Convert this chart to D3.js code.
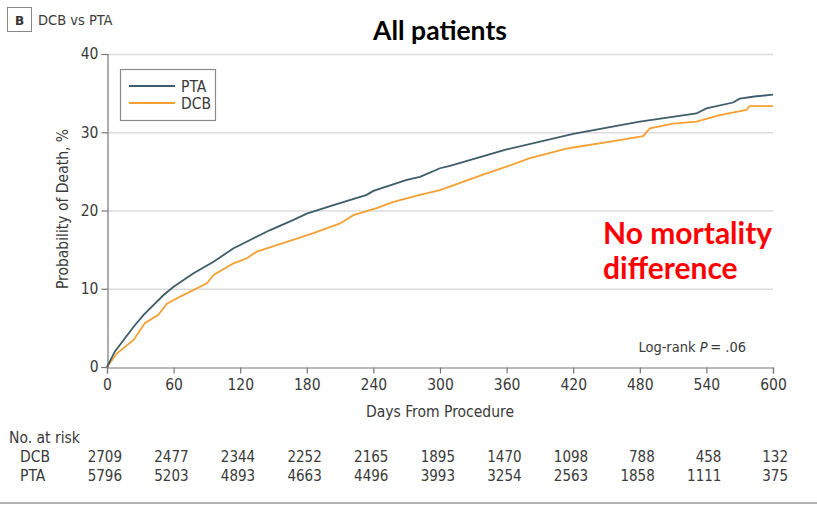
<!DOCTYPE html>
<html><head><meta charset="utf-8">
<script src="https://cdn.jsdelivr.net/npm/d3@7"></script>
<style>
html,body{margin:0;padding:0;background:#fff;}
svg{display:block;}
.cond{font-family:'DejaVu Sans Condensed','DejaVu Sans',sans-serif;font-stretch:condensed;fill:#3a3a3a;}
</style></head>
<body>
<svg id="chart" width="817" height="505"></svg>
<script>
// ---- data ----
const xTicks = [0,60,120,180,240,300,360,420,480,540,600];
const yTicks = [0,10,20,30,40];
const ptaDays = [0,7,24,33,51,60,78,96,114,120,147,168,180,204,234,240,270,282,300,309,360,420,480,531,540,564,570,585,600];
const ptaVals = [0,1.96,5.15,6.65,9.2,10.26,11.97,13.46,15.17,15.6,17.5,18.8,19.6,20.7,22.0,22.5,23.9,24.3,25.4,25.7,27.8,29.8,31.35,32.4,33.05,33.8,34.3,34.6,34.8];
const dcbDays = [0,9,24,34,46,54,66,90,96,114,126,135,162,186,210,222,243,258,282,300,342,360,381,414,420,462,483,489,510,531,552,576,579,600];
const dcbVals = [0,1.75,3.45,5.6,6.65,8.1,9.0,10.7,11.75,13.25,13.9,14.75,16.0,17.1,18.35,19.4,20.3,21.1,22.0,22.6,24.75,25.6,26.7,27.9,28.05,29.0,29.5,30.5,31.1,31.35,32.2,32.85,33.35,33.35];
const riskGroups = ["DCB","PTA"];
const riskDCB = [2709,2477,2344,2252,2165,1895,1470,1098,788,458,132];
const riskPTA = [5796,5203,4893,4663,4496,3993,3254,2563,1858,1111,375];
const seriesNames = ["PTA","DCB"];
const colors = {PTA:"#3f5d69", DCB:"#f6a033"};

const svg = d3.select("#chart");
const x = d3.scaleLinear().domain([0,600]).range([107,773]);
const y = d3.scaleLinear().domain([0,40]).range([367,54]);
const FS = 15.5;

// header
svg.append("rect").attr("x",7.5).attr("y",7.5).attr("width",24).attr("height",24)
  .attr("fill","none").attr("stroke","#888").attr("stroke-width",1);
svg.append("text").attr("x",19.5).attr("y",24.5).attr("text-anchor","middle")
  .attr("font-family","'DejaVu Sans',sans-serif").attr("font-weight","bold").attr("font-size",12).attr("fill","#333").text("B");
svg.append("text").attr("class","cond").attr("x",38).attr("y",25).attr("font-size",14.5).text("DCB vs PTA");

svg.append("text").attr("x",440).attr("y",40).attr("text-anchor","middle")
  .attr("font-family","Lato,sans-serif").attr("font-weight","bold").attr("font-size",26.5).attr("fill","#000").text("All patients");

// gridlines
svg.append("g").selectAll("line").data(yTicks.filter(d=>d>0)).join("line")
  .attr("x1",x(0)).attr("x2",x(600)).attr("y1",d=>y(d)+0.5).attr("y2",d=>y(d)+0.5)
  .attr("stroke","#dcdcdc").attr("stroke-width",1.5);

// axes
const xAxis = svg.append("g").attr("transform","translate(0,367.5)")
  .call(d3.axisBottom(x).tickValues(xTicks).tickSize(6).tickPadding(4));
const yAxis = svg.append("g").attr("transform","translate(107.5,0)")
  .call(d3.axisLeft(y).tickValues(yTicks).tickSize(6).tickPadding(3));
[xAxis,yAxis].forEach(g=>{
  g.select(".domain").attr("stroke","#777").attr("stroke-width",1.2);
  g.selectAll(".tick line").attr("stroke","#777").attr("stroke-width",1.2);
  g.selectAll(".tick text").attr("class","cond").attr("font-size",FS).attr("fill","#3a3a3a")
   .style("font-family","'DejaVu Sans Condensed','DejaVu Sans',sans-serif").style("font-stretch","condensed");
});
xAxis.selectAll(".tick text").attr("dy","0.8em");

svg.append("text").attr("class","cond").attr("x",440).attr("y",417).attr("text-anchor","middle")
  .attr("font-size",FS).text("Days From Procedure");
svg.append("text").attr("class","cond").attr("transform","translate(68,209) rotate(-90)")
  .attr("text-anchor","middle").attr("font-size",FS).text("Probability of Death, %");

// curves
const line = d3.line().x(d=>x(d[0])).y(d=>y(d[1])).curve(d3.curveLinear);
const series = {
  PTA: ptaDays.map((d,i)=>[d,ptaVals[i]]),
  DCB: dcbDays.map((d,i)=>[d,dcbVals[i]])
};
["DCB","PTA"].forEach(k=>{
  svg.append("path").datum(series[k]).attr("d",line).attr("fill","none")
    .attr("stroke",colors[k]).attr("stroke-width",1.8);
});

// legend
svg.append("rect").attr("x",120.5).attr("y",69.5).attr("width",95).attr("height",51)
  .attr("fill","#fff").attr("stroke","#8a8a8a").attr("stroke-width",1.2);
seriesNames.forEach((s,i)=>{
  const yy = 86 + i*17;
  svg.append("line").attr("x1",129).attr("x2",175).attr("y1",yy).attr("y2",yy)
    .attr("stroke",colors[s]).attr("stroke-width",2);
  svg.append("text").attr("class","cond").attr("x",181).attr("y",yy+5.5).attr("font-size",FS).text(s);
});

// annotations
svg.append("text").attr("x",603).attr("y",244).attr("font-family","Lato,sans-serif").attr("font-weight","bold")
  .attr("font-size",30).attr("fill","#ff0000").text("No mortality");
svg.append("text").attr("x",603).attr("y",279).attr("font-family","Lato,sans-serif").attr("font-weight","bold")
  .attr("font-size",30).attr("fill","#ff0000").text("difference");

const lr = svg.append("text").attr("class","cond").attr("x",746).attr("y",352).attr("text-anchor","end").attr("font-size",14.5);
lr.append("tspan").text("Log-rank ");
lr.append("tspan").attr("font-style","italic").text("P");
lr.append("tspan").text("\u2009= .06");

// risk table
svg.append("text").attr("class","cond").attr("x",9).attr("y",443).attr("font-size",FS).text("No. at risk");
const riskRows = [riskDCB, riskPTA];
riskGroups.forEach((g,gi)=>{
  const yy = 462 + gi*19;
  svg.append("text").attr("class","cond").attr("x",20).attr("y",yy).attr("font-size",FS).text(g);
  svg.append("g").selectAll("text").data(riskRows[gi]).join("text")
    .attr("class","cond").attr("x",(d,i)=>x(xTicks[i])+15).attr("y",yy)
    .attr("text-anchor","end").attr("font-size",15).text(d=>d);
});

// bottom rule
svg.append("line").attr("x1",0).attr("x2",817).attr("y1",503).attr("y2",503).attr("stroke","#999").attr("stroke-width",1.5);
</script>
</body></html>
